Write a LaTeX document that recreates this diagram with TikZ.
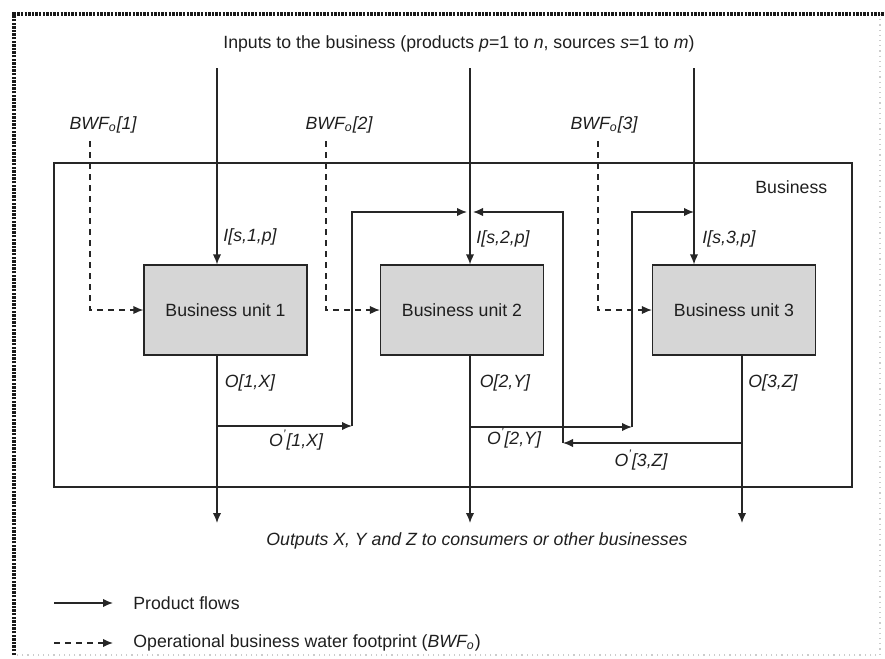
\documentclass[tikz,border=0pt]{standalone}
\usepackage{fontspec}
\setmainfont{Liberation Sans}
\usetikzlibrary{arrows.meta}
\begin{document}
\begin{tikzpicture}[x=0.5pt,y=-0.5pt,
  font=\fontsize{8.85}{10.5}\selectfont,
  every node/.style={text=black!88},
  flow/.style={line width=0.65pt, draw=black!85, -{Latex[length=5pt,width=4.2pt]}},
  line/.style={line width=0.65pt, draw=black!85},
  water/.style={flow, dash pattern=on 3pt off 2.5pt},
  unitbox/.style={draw=black!85, line width=0.65pt, fill=black!16,
    minimum width=81.5pt, minimum height=45pt, inner sep=0pt},
  lbl/.style={font=\fontsize{8.85}{10.5}\selectfont\itshape, inner sep=0pt},
  txt/.style={inner sep=0pt}
]
\useasboundingbox (0,0) rectangle (885,659);

% outer frame
\draw[gray!40, line width=0.6pt, dotted] (880,14) -- (880,655) -- (14,655);
\draw[black!90, line width=1.6pt, dash pattern=on 1.2pt off 0.6pt] (14,655) -- (14,14) -- (885,14);

% business boundary
\draw[line] (54,163) rectangle (852,487);
\node[txt, anchor=west] (biz) at (755,187) {Business};

% business units
\node[unitbox] (u1) at (225.5,310) {Business unit 1};
\node[unitbox] (u2) at (462,310) {Business unit 2};
\node[unitbox] (u3) at (734,310) {Business unit 3};

% inputs
\node[txt] (inputs) at (459,44) {Inputs to the business (products \textit{p}=1 to \textit{n}, sources \textit{s}=1 to \textit{m})};
\coordinate (in1) at (217,68);
\coordinate (in2) at (470,68);
\coordinate (in3) at (694,68);
\draw[flow] (in1) -- (in1 |- u1.north);
\draw[flow] (in2) -- (in2 |- u2.north);
\draw[flow] (in3) -- (in3 |- u3.north);
\node[lbl] (i1) at (250,237) {I[s,1,p]};
\node[lbl] (i2) at (503,239) {I[s,2,p]};
\node[lbl] (i3) at (729,239) {I[s,3,p]};

% operational water footprint
\node[lbl] (b1) at (103,125) {BWF\textsubscript{o}[1]};
\node[lbl] (b2) at (339,125) {BWF\textsubscript{o}[2]};
\node[lbl] (b3) at (604,125) {BWF\textsubscript{o}[3]};
\coordinate (w1) at (90,141);
\coordinate (w2) at (326,141);
\coordinate (w3) at (598,141);
\draw[water] (w1) -- (w1 |- u1.west) -- (u1.west);
\draw[water] (w2) -- (w2 |- u2.west) -- (u2.west);
\draw[water] (w3) -- (w3 |- u3.west) -- (u3.west);

% outputs
\coordinate (o1) at (217,523);
\coordinate (o2) at (470,523);
\coordinate (o3) at (742,523);
\draw[flow] (o1 |- u1.south) -- (o1);
\draw[flow] (o2 |- u2.south) -- (o2);
\draw[flow] (o3 |- u3.south) -- (o3);
\node[lbl] (ol1) at (250,383) {O[1,X]};
\node[lbl] (ol2) at (505,383) {O[2,Y]};
\node[lbl] (ol3) at (773,383) {O[3,Z]};
\node[lbl] (outputs) at (477,541) {Outputs X, Y and Z to consumers or other businesses};

% internal transfers
\coordinate (r1a) at (217,426);
\coordinate (r1b) at (352,426);
\coordinate (r1c) at (352,212);
\coordinate (r1d) at (467,212);
\draw[flow] (r1a) -- (r1b);
\draw[flow] (r1b) -- (r1c) -- (r1d);
\node[lbl] (rl1) at (296,440) {O\textsuperscript{'}[1,X]};

\coordinate (r2a) at (470,427);
\coordinate (r2b) at (632,427);
\coordinate (r2c) at (632,212);
\coordinate (r2d) at (694,212);
\draw[flow] (r2a) -- (r2b);
\draw[flow] (r2b) -- (r2c) -- (r2d);
\node[lbl] (rl2) at (514,438) {O\textsuperscript{'}[2,Y]};

\coordinate (r3a) at (742,443);
\coordinate (r3b) at (563,443);
\coordinate (r3c) at (563,212);
\coordinate (r3d) at (473,212);
\draw[flow] (r3a) -- (r3b);
\draw[flow] (r3b) -- (r3c) -- (r3d);
\node[lbl] (rl3) at (641,460) {O\textsuperscript{'}[3,Z]};

% legend
\coordinate (k1a) at (54,603);
\coordinate (k1b) at (113,603);
\coordinate (k2a) at (54,643);
\coordinate (k2b) at (113,643);
\draw[flow] (k1a) -- (k1b);
\draw[water] (k2a) -- (k2b);
\node[txt, anchor=west] (kt1) at (133,603) {Product flows};
\node[txt, anchor=west] (kt2) at (133,643) {Operational business water footprint (\textit{BWF\textsubscript{o}})};
\end{tikzpicture}
\end{document}
